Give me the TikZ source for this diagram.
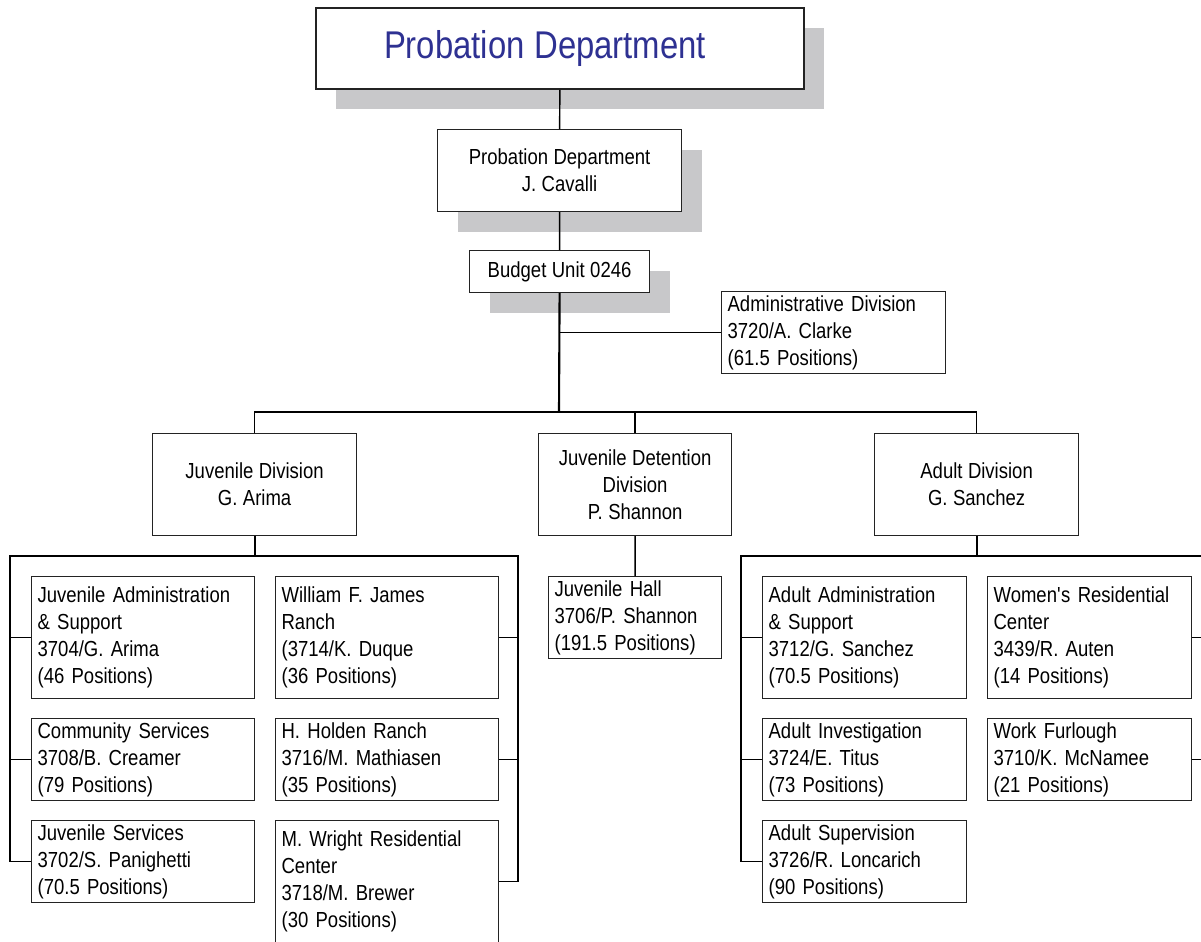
\documentclass[tikz,border=0pt]{standalone}
\usepackage{fontspec}
\setmainfont[FakeStretch=0.85]{Liberation Sans}
\usetikzlibrary{shadows}
\definecolor{titleblue}{RGB}{46,49,146}
\definecolor{shadowgrey}{RGB}{200,200,202}
\definecolor{boxline}{RGB}{35,35,35}
\newcommand\chartfont{\fontsize{12.4}{15.4}\selectfont\spaceskip0.25em\relax}
\newcommand\headfont{\fontsize{22}{26}\selectfont\spaceskip0.25em\relax}

\begin{document}
\begin{tikzpicture}[
    x=0.02cm, y=-0.02cm,
    every node/.style={font=\chartfont, inner sep=0pt},
    box/.style={draw=boxline, line width=0.7pt, fill=white, anchor=north west},
    shadowed/.style={general shadow={fill=shadowgrey, shadow xshift=0.4cm, shadow yshift=-0.4cm}},
    unit/.style={box, align=left, inner xsep=0.12cm, text width=4.22cm, minimum height=1.64cm},
    unit tall/.style={unit, minimum height=2.44cm},
    adult/.style={text width=3.84cm},
    division/.style={box, align=center, minimum width=4.08cm, minimum height=2.04cm},
    link/.style={draw=black, line width=0.8pt},
    trunk/.style={draw=black, line width=1.2pt},
  ]
  \path[use as bounding box, clip] (0,0) rectangle (1201,941);

  % department head
  \node[box, shadowed, line width=1.1pt, minimum width=9.76cm, minimum height=1.62cm] (title) at (315,7) {};
  \node[font=\headfont, text=titleblue] (titletext) at (545,48) {Probation Department};
  \node[box, shadowed, align=center, minimum width=4.88cm, minimum height=1.64cm] (head) at (437,129)
    {Probation Department\\J. Cavalli};
  \node[box, shadowed, minimum width=3.6cm, minimum height=0.84cm] (budget) at (469,250) {Budget Unit 0246};
  \node[unit, text width=4.24cm] (admin) at (721,291)
    {Administrative Division\\3720/A. Clarke\\(61.5 Positions)};

  % divisions
  \node[division] (juvdiv) at (152,433) {Juvenile Division\\G. Arima};
  \node[division, minimum width=3.86cm] (detdiv) at (538,433) {Juvenile Detention\\Division\\P. Shannon};
  \node[division] (adultdiv) at (874,433) {Adult Division\\G. Sanchez};

  % juvenile units
  \node[unit tall] (juvadmin) at (31,576) {Juvenile Administration\\\& Support\\3704/G. Arima\\(46 Positions)};
  \node[unit] (community) at (31,718) {Community Services\\3708/B. Creamer\\(79 Positions)};
  \node[unit] (juvservices) at (31,820) {Juvenile Services\\3702/S. Panighetti\\(70.5 Positions)};
  \node[unit tall] (jamesranch) at (275,576) {William F. James\\Ranch\\(3714/K. Duque\\(36 Positions)};
  \node[unit] (holden) at (275,718) {H. Holden Ranch\\3716/M. Mathiasen\\(35 Positions)};
  \node[unit tall] (wright) at (275,820) {M. Wright Residential\\Center\\3718/M. Brewer\\(30 Positions)};

  \node[unit, text width=3.22cm] (hall) at (548,576) {Juvenile Hall\\3706/P. Shannon\\(191.5 Positions)};

  % adult units
  \node[unit tall, adult] (adultadmin) at (762,576) {Adult Administration\\\& Support\\3712/G. Sanchez\\(70.5 Positions)};
  \node[unit, adult] (investigation) at (762,718) {Adult Investigation\\3724/E. Titus\\(73 Positions)};
  \node[unit, adult] (supervision) at (762,820) {Adult Supervision\\3726/R. Loncarich\\(90 Positions)};
  \node[unit tall, adult] (womens) at (987,576) {Women\textquotesingle s Residential\\Center\\3439/R. Auten\\(14 Positions)};
  \node[unit, adult] (furlough) at (987,718) {Work Furlough\\3710/K. McNamee\\(21 Positions)};

  % connectors
  \coordinate (divbus) at (559,412);
  \draw[link] (title.south) -- (head.north);
  \draw[link] (head.south) -- (budget.north);
  \draw[trunk] (budget.south) -- (divbus);
  \draw[link] (budget.south |- admin.west) -- (admin.west);
  \draw[link] (juvdiv.north) |- (divbus) -| (adultdiv.north);
  \draw[link] (detdiv.north) -- (detdiv.north |- divbus);
  \draw[link] (detdiv.south) -- (hall.north);

  \coordinate (juvbusL) at (10,556);
  \coordinate (juvbusR) at (518,556);
  \draw[trunk] (juvdiv.south) -- (juvdiv.south |- juvbusL);
  \draw[trunk] (juvservices.west -| juvbusL) -- (juvbusL) -- (juvbusR) -- (wright.east -| juvbusR);
  \foreach \n in {juvadmin, community, juvservices}
    \draw[link] (\n.west) -- (\n.west -| juvbusL);
  \foreach \n in {jamesranch, holden, wright}
    \draw[link] (\n.east) -- (\n.east -| juvbusR);

  \coordinate (adbusL) at (741,556);
  \coordinate (adbusR) at (1212,556);
  \draw[trunk] (adultdiv.south) -- (adultdiv.south |- adbusL);
  \draw[trunk] (supervision.west -| adbusL) -- (adbusL) -- (adbusR) -- (furlough.east -| adbusR);
  \foreach \n in {adultadmin, investigation, supervision}
    \draw[link] (\n.west) -- (\n.west -| adbusL);
  \foreach \n in {womens, furlough}
    \draw[link] (\n.east) -- (\n.east -| adbusR);
\end{tikzpicture}
\end{document}
